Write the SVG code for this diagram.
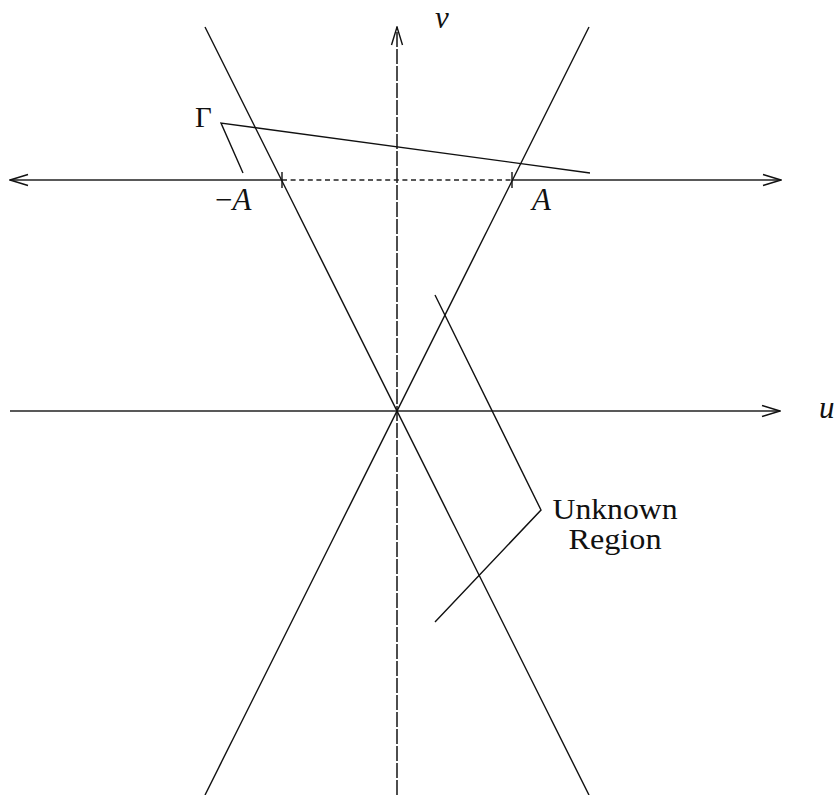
<svg xmlns="http://www.w3.org/2000/svg" width="840" height="795" viewBox="0 0 840 795">
<defs>
<style>
.ln{stroke:#111;stroke-width:1.4;fill:none;stroke-linecap:butt}
.ax{stroke:#222;stroke-width:1.6;fill:none}
.vdash{stroke-dasharray:15 2}
.hdash{stroke-dasharray:5 3.6}
.math{font-family:"Liberation Serif","Times New Roman",serif;font-style:italic;font-size:31px;fill:#111}
.rm{font-family:"Liberation Serif","Times New Roman",serif;font-size:29px;fill:#111}
</style>
<marker id="arr" viewBox="0 0 20 14" refX="19" refY="7" markerWidth="20" markerHeight="14" markerUnits="userSpaceOnUse" orient="auto">
<path d="M1,1.5 L19,7 L1,12.5" fill="none" stroke="#111" stroke-width="1.4"/>
</marker>
</defs>
<rect width="840" height="795" fill="#fff"/>
<g id="connectors">
<line id="v-axis" class="ax vdash" x1="397" y1="795" x2="397" y2="27" marker-end="url(#arr)"/>
<line id="u-axis" class="ax" x1="10" y1="411" x2="780" y2="411" marker-end="url(#arr)"/>
<line class="ax" x1="282" y1="180" x2="10" y2="180" marker-end="url(#arr)"/>
<line class="ax hdash" x1="282" y1="180" x2="512" y2="180"/>
<line class="ax" x1="512" y1="180" x2="781" y2="180" marker-end="url(#arr)"/>
<line class="ln" x1="282" y1="172" x2="282" y2="188"/>
<line class="ln" x1="512" y1="172" x2="512" y2="188"/>
<line class="ln" x1="205" y1="27" x2="589" y2="795"/>
<line class="ln" x1="589" y1="27" x2="205" y2="795"/>
<polyline class="ln" points="243,173 221,123 590,173"/>
<polyline class="ln" points="435,295 541,510 435,622"/>
</g>
<g id="label-v"><text class="math" x="435" y="28" font-size="28">v</text></g>
<g id="label-u"><text class="math" x="819" y="418" font-size="28">u</text></g>
<g id="label-gamma"><text class="rm" x="195" y="127" font-size="29">Γ</text></g>
<g id="label-minusA"><text class="math" x="215" y="210"><tspan font-style="normal">−</tspan>A</text></g>
<g id="label-A"><text class="math" x="532" y="210">A</text></g>
<g id="label-unknown">
<text class="rm" x="615" y="519" text-anchor="middle" textLength="125" lengthAdjust="spacingAndGlyphs">Unknown</text>
<text class="rm" x="615" y="549" text-anchor="middle" textLength="93" lengthAdjust="spacingAndGlyphs">Region</text>
</g>
</svg>
